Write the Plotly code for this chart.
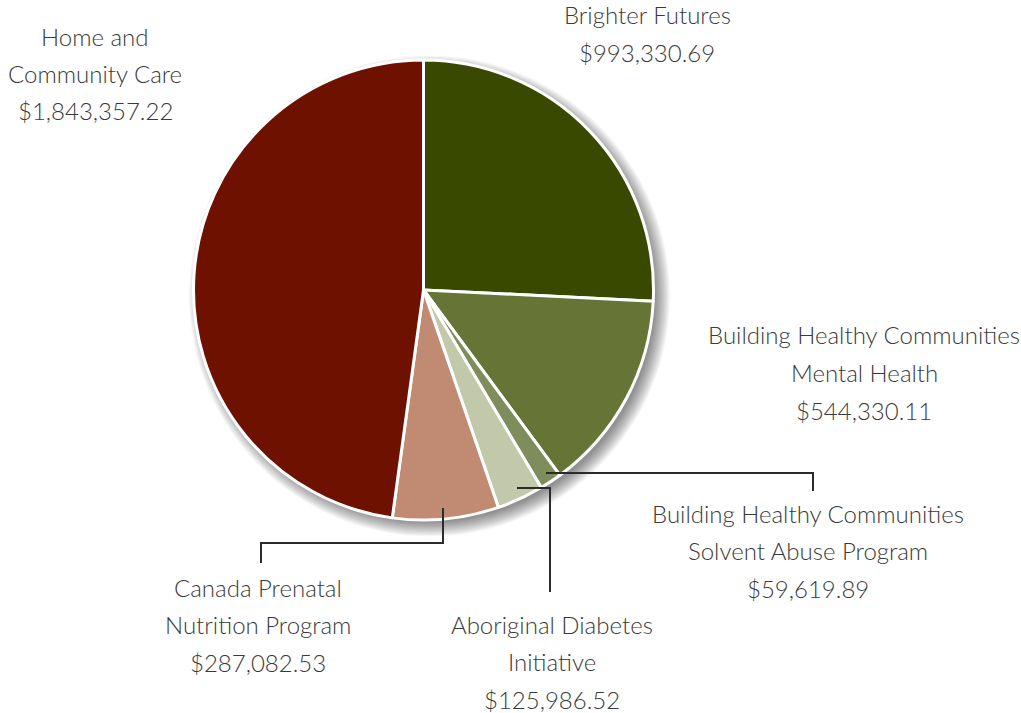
import plotly.graph_objects as go

# ---- data ----
programs = [
    "Brighter Futures",
    "Building Healthy Communities Mental Health",
    "Building Healthy Communities Solvent Abuse Program",
    "Aboriginal Diabetes Initiative",
    "Canada Prenatal Nutrition Program",
    "Home and Community Care",
]
amounts = [993330.69, 544330.11, 59619.89, 125986.52, 287082.53, 1843357.22]
label_lines = [
    ["Brighter Futures"],
    ["Building Healthy Communities", "Mental Health"],
    ["Building Healthy Communities", "Solvent Abuse Program"],
    ["Aboriginal Diabetes", "Initiative"],
    ["Canada Prenatal", "Nutrition Program"],
    ["Home and", "Community Care"],
]
colors = ["#3a4900", "#667535", "#7f8c5b", "#c2c9ab", "#c08a73", "#6e1100"]

# ---- layout (page pixels) ----
W, H = 1021, 713
CX, CY, R = 423.5, 290, 230
label_pos = [(647, 15), (864, 335), (808, 513), (552, 624), (258, 587), (95, 36)]
LINE_H = 37.5
FONT = dict(family="Lato", size=24, color="#3a3a3a", weight=300)

def px(x):
    return x / W

def py(y):
    return 1 - y / H

fig = go.Figure()
fig.add_trace(go.Pie(
    labels=programs,
    values=amounts,
    sort=False,
    direction="clockwise",
    rotation=0,
    marker=dict(colors=colors, line=dict(color="white", width=3)),
    textinfo="none",
    hoverinfo="label+value",
    showlegend=False,
    domain=dict(x=[px(CX - R), px(CX + R)], y=[py(CY + R), py(CY - R)]),
))

annotations = []
for lines, amt, (x0, y0) in zip(label_lines, amounts, label_pos):
    all_lines = lines + ["${:,.2f}".format(amt)]
    for i, t in enumerate(all_lines):
        annotations.append(dict(
            text=t, x=px(x0), y=py(y0 + i * LINE_H), xref="paper", yref="paper",
            showarrow=False, xanchor="center", yanchor="middle", font=FONT,
        ))

shapes = []
# soft drop shadow
SX, SY = CX + 6, CY + 6
for k in range(12):
    rr = R - 4 + k * 1.3
    shapes.append(dict(
        type="circle", xref="paper", yref="paper", layer="below",
        x0=px(SX - rr), x1=px(SX + rr), y0=py(SY + rr), y1=py(SY - rr),
        fillcolor="rgba(0,0,0,0.045)", line=dict(width=0),
    ))

leaders = [
    [(546, 473), (813, 473), (813, 491)],
    [(517, 488), (550, 488), (550, 592)],
    [(443, 508), (443, 543), (261, 543), (261, 563)],
]
for pts in leaders:
    path = "M " + " L ".join("{:.5f},{:.5f}".format(px(x), py(y)) for x, y in pts)
    shapes.append(dict(type="path", xref="paper", yref="paper", path=path,
                       line=dict(color="#2b2b2b", width=2)))

fig.update_layout(
    width=W, height=H,
    margin=dict(l=0, r=0, t=0, b=0),
    paper_bgcolor="white", plot_bgcolor="white",
    annotations=annotations, shapes=shapes,
)
fig.write_html(
    "out.html",
    config={"displayModeBar": False},
    post_script="document.body.style.margin='0px';document.body.style.overflow='hidden';",
)
